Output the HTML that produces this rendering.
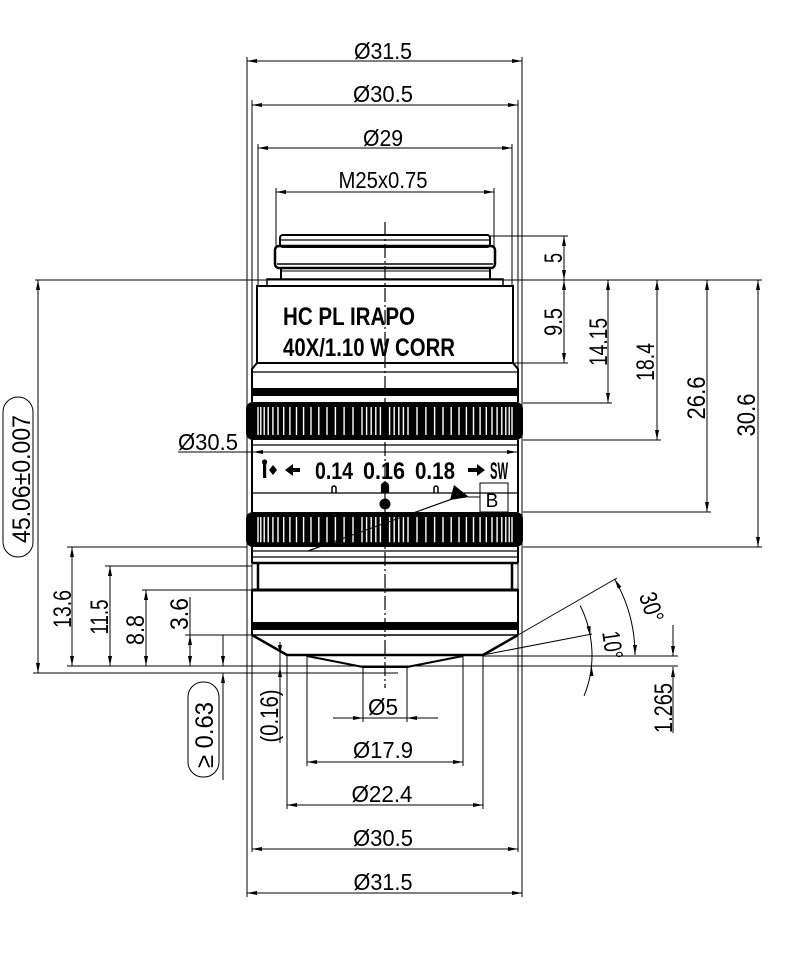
<!DOCTYPE html>
<html><head><meta charset="utf-8"><style>
html,body{margin:0;padding:0;background:#fff}
svg{display:block}
text{font-family:"Liberation Sans",sans-serif;fill:#000;stroke:none}
.d{font-size:23px}
.r{font-size:25px}
.b{font-weight:bold}
</style></head><body>
<svg width="800" height="974" viewBox="0 0 800 974" xmlns="http://www.w3.org/2000/svg">
<rect width="800" height="974" fill="#fff"/>
<defs>
<path id="kl" d="M380.4 0v28M371.2 0v28M362 0v28M353 0v28M344.1 0v28M335.4 0v28M327 0v28M318.8 0v28M311 0v28M303.6 0v28M296.5 0v28M289.9 0v28M283.7 0v28M278 0v28M272.9 0v28M268.2 0v28M264.2 0v28M260.8 0v28M258 0v28M389.6 0v28M398.8 0v28M408 0v28M417 0v28M425.9 0v28M434.6 0v28M443 0v28M451.2 0v28M459 0v28M466.4 0v28M473.5 0v28M480.1 0v28M486.3 0v28M492 0v28M497.1 0v28M501.8 0v28M505.8 0v28M509.2 0v28M512 0v28M375.8 0v28M394.2 0v28M366.6 0v28M403.4 0v28"/>
</defs>

<g stroke="#000" stroke-width="1" fill="none">
<path d="M247 57V897M522 57V897M252 100V852M518 100V852M258 144V286M512 144V286M276 188V247M494 188V247"/>
<path d="M247 61H522M252 105H518M258 148H512M276 192H494"/>
<path d="M333 718H438M307 762H463M287 805H483M252 849H518M247 893H522"/>
<path d="M363 667V722M407 667V722M307 656V766M463 656V766M287 656V809M483 656V809"/>
<path d="M490 236H568M35 280H762M513 363H568M523 403H612M523 440H661M523 512H711M523 547H762"/>
<path d="M67 547H247M105 566H252M142 590H252M185 635H252M67 666H678M33 673H398M483 656H678"/>
<path d="M564 236V363M608 280V403M657 280V440M707 280V512M758 280V547"/>
<path d="M38 280V673M72 547V666M110 566V666M146 590V666M190 597V666M223 635V666M223 673V780M280 642V743M673 625V656M673 667V733"/>
<path d="M178 452H518"/>
<path d="M518 635L617 578M483 655L592 634"/>
<path d="M614.6 579A152 152 0 0 1 635 655"/>
<path d="M580.1 605.5A109 109 0 0 1 584.1 695.8"/>
<path d="M308 551L452 499M468 497H480"/>
<rect x="480" y="483" width="28" height="29"/>
<rect x="3" y="397" width="30" height="160" rx="15"/>
<rect x="188" y="682" width="31" height="95" rx="15"/>
</g>

<g fill="#000" stroke="none">
<polygon points="247,61 257,59 257,63"/><polygon points="522,61 512,59 512,63"/>
<polygon points="252,105 262,103 262,107"/><polygon points="518,105 508,103 508,107"/>
<polygon points="258,148 268,146 268,150"/><polygon points="512,148 502,146 502,150"/>
<polygon points="276,192 286,190 286,194"/><polygon points="494,192 484,190 484,194"/>
<polygon points="363,718 353,716 353,720"/><polygon points="407,718 417,716 417,720"/>
<polygon points="307,762 317,760 317,764"/><polygon points="463,762 453,760 453,764"/>
<polygon points="287,805 297,803 297,807"/><polygon points="483,805 473,803 473,807"/>
<polygon points="252,849 262,847 262,851"/><polygon points="518,849 508,847 508,851"/>
<polygon points="247,893 257,891 257,895"/><polygon points="522,893 512,891 512,895"/>
<polygon points="253,452 263,450 263,454"/><polygon points="517,452 507,450 507,454"/>
<polygon points="564,236 562,246 566,246"/><polygon points="564,280 562,270 566,270"/>
<polygon points="564,280 562,290 566,290"/><polygon points="564,363 562,353 566,353"/>
<polygon points="608,280 606,290 610,290"/><polygon points="608,403 606,393 610,393"/>
<polygon points="657,280 655,290 659,290"/><polygon points="657,440 655,430 659,430"/>
<polygon points="707,280 705,290 709,290"/><polygon points="707,512 705,502 709,502"/>
<polygon points="758,280 756,290 760,290"/><polygon points="758,547 756,537 760,537"/>
<polygon points="38,280 36,290 40,290"/><polygon points="38,673 36,663 40,663"/>
<polygon points="72,547 70,557 74,557"/><polygon points="72,666 70,656 74,656"/>
<polygon points="110,566 108,576 112,576"/><polygon points="110,666 108,656 112,656"/>
<polygon points="146,590 144,600 148,600"/><polygon points="146,666 144,656 148,656"/>
<polygon points="190,635 188,645 192,645"/><polygon points="190,666 188,656 192,656"/>
<polygon points="223,666 221,656 225,656"/><polygon points="223,673 221,683 225,683"/>
<polygon points="280,655 278,645 282,645"/><polygon points="280,667 278,677 282,677"/>
<polygon points="673,656 671,646 675,646"/><polygon points="673,667 671,677 675,677"/>
<polygon points="614.6,579 621.3,586.7 617.9,588.7"/>
<polygon points="635,655 633,645 637,645"/>
<polygon points="590.3,636.1 590.6,626 586.6,626.6"/>
<polygon points="591.5,666 589.5,676 593.5,676"/>
<polygon points="454,485 469,497 450,500"/>
</g>

<g stroke="#000" stroke-width="2" fill="none">
<rect x="280" y="235" width="210" height="12" rx="3"/>
<path d="M281 240H489" stroke-width="1.2"/>
<rect x="275" y="246" width="220" height="22" rx="4" stroke-width="2.5"/>
<path d="M277 264H493" stroke-width="1.5"/>
<path d="M281 268V279M490 268V279"/>
<path d="M282 271H489" stroke-width="1"/>
<rect x="267" y="279" width="236" height="7" stroke-width="1.5"/>
<rect x="257" y="286" width="256" height="77"/>
<path d="M257 363L252 369V402M513 363L518 369V402"/>
<path d="M252 372H518" stroke-width="1.2"/>
<path d="M252 440V512M518 440V512"/>
<path d="M252 445H518M252 493H518" stroke-width="1.2"/>
<path d="M252 547V563M518 547V563"/>
<path d="M252 551H518M252 557H518" stroke-width="1.2"/>
<path d="M252 563H518" stroke-width="2.5"/>
<path d="M258 563V589M512 563V589" stroke-width="2.5"/>
<path d="M252 590H518" stroke-width="3"/>
<path d="M252 589V635M518 589V635"/>
<path d="M252 635H518" stroke-width="1.5"/>
<path d="M252 635L287 655H483L518 635" stroke-width="2.5"/>
<path d="M307 656L363 667H407L463 656"/>
</g>
<rect x="252" y="388" width="266" height="8" fill="#000"/>
<rect x="252" y="622" width="266" height="8" fill="#000"/>

<rect x="246" y="402" width="277" height="38" rx="7" fill="#000"/>
<rect x="246" y="512" width="277" height="35" rx="7" fill="#000"/>
<g stroke="#fff" stroke-width="1.4" fill="none">
<use href="#kl" transform="translate(0,407)"/>
<use href="#kl" transform="translate(0,517) scale(1,0.9)"/>
</g>
<path d="M308 551L452 499" stroke="#000" stroke-width="1"/>

<path d="M385 222V688" stroke="#000" stroke-width="1.2" stroke-dasharray="14 3 2 3" fill="none"/>

<g stroke="#000" fill="none">
<path d="M382 493V486a3 3 0 0 1 6 0V493" stroke-width="2.2" fill="#000"/>
<path d="M332 493V488a2 2 0 0 1 4 0V493" stroke-width="1.5"/>
<path d="M434 493V488a2 2 0 0 1 4 0V493" stroke-width="1.5"/>
</g>
<circle cx="385" cy="504" r="5.5" fill="#000"/>
<rect x="263" y="463" width="3.2" height="15" fill="#000"/>
<circle cx="264.6" cy="462" r="2.6" fill="#000"/>
<polygon points="273,465 277,470 273,475 269,470" fill="#000"/>
<polygon points="285,470 293,464 293,468 300,468 300,472 293,472 293,476" fill="#000"/>
<polygon points="485,470 477,464 477,468 468,468 468,472 477,472 477,476" fill="#000"/>

<text class="b" font-size="25" x="283" y="325" textLength="132" lengthAdjust="spacingAndGlyphs">HC PL IRAPO</text>
<text class="b" font-size="25" x="283" y="356" textLength="172" lengthAdjust="spacingAndGlyphs">40X/1.10 W CORR</text>
<text class="b" font-size="24" x="315" y="479" textLength="38" lengthAdjust="spacingAndGlyphs">0.14</text>
<text class="b" font-size="24" x="363" y="479" textLength="42" lengthAdjust="spacingAndGlyphs">0.16</text>
<text class="b" font-size="24" x="415" y="479" textLength="40" lengthAdjust="spacingAndGlyphs">0.18</text>
<text class="b" font-size="24" x="490" y="479" textLength="18" lengthAdjust="spacingAndGlyphs">SW</text>
<text font-size="19" x="492" y="507" text-anchor="middle">B</text>

<text class="d" x="383" y="59" text-anchor="middle" textLength="58" lengthAdjust="spacingAndGlyphs">Ø31.5</text>
<text class="d" x="383" y="102" text-anchor="middle" textLength="60" lengthAdjust="spacingAndGlyphs">Ø30.5</text>
<text class="d" x="383" y="146" text-anchor="middle" textLength="40" lengthAdjust="spacingAndGlyphs">Ø29</text>
<text class="d" x="383" y="188" text-anchor="middle" textLength="89" lengthAdjust="spacingAndGlyphs">M25x0.75</text>
<text class="d" x="178" y="450" textLength="60" lengthAdjust="spacingAndGlyphs">Ø30.5</text>
<text class="d" x="383" y="715" text-anchor="middle" textLength="30" lengthAdjust="spacingAndGlyphs">Ø5</text>
<text class="d" x="383" y="758" text-anchor="middle" textLength="60" lengthAdjust="spacingAndGlyphs">Ø17.9</text>
<text class="d" x="382" y="802" text-anchor="middle" textLength="61" lengthAdjust="spacingAndGlyphs">Ø22.4</text>
<text class="d" x="383" y="846" text-anchor="middle" textLength="60" lengthAdjust="spacingAndGlyphs">Ø30.5</text>
<text class="d" x="383" y="890" text-anchor="middle" textLength="59" lengthAdjust="spacingAndGlyphs">Ø31.5</text>

<text class="r" text-anchor="middle" y="9" transform="translate(553,258) rotate(-90)" textLength="10" lengthAdjust="spacingAndGlyphs">5</text>
<text class="r" text-anchor="middle" y="9" transform="translate(553,322) rotate(-90)" textLength="28" lengthAdjust="spacingAndGlyphs">9.5</text>
<text class="r" text-anchor="middle" y="9" transform="translate(598,342) rotate(-90)" textLength="48" lengthAdjust="spacingAndGlyphs">14.15</text>
<text class="r" text-anchor="middle" y="9" transform="translate(645,362) rotate(-90)" textLength="38" lengthAdjust="spacingAndGlyphs">18.4</text>
<text class="r" text-anchor="middle" y="9" transform="translate(696,398) rotate(-90)" textLength="43" lengthAdjust="spacingAndGlyphs">26.6</text>
<text class="r" text-anchor="middle" y="9" transform="translate(746,415) rotate(-90)" textLength="43" lengthAdjust="spacingAndGlyphs">30.6</text>
<text class="r" text-anchor="middle" y="9" transform="translate(62,609) rotate(-90)" textLength="38" lengthAdjust="spacingAndGlyphs">13.6</text>
<text class="r" text-anchor="middle" y="9" transform="translate(99,617) rotate(-90)" textLength="35" lengthAdjust="spacingAndGlyphs">11.5</text>
<text class="r" text-anchor="middle" y="9" transform="translate(135,630) rotate(-90)" textLength="30" lengthAdjust="spacingAndGlyphs">8.8</text>
<text class="r" text-anchor="middle" y="9" transform="translate(179,614) rotate(-90)" textLength="32" lengthAdjust="spacingAndGlyphs">3.6</text>
<text class="r" text-anchor="middle" y="9" transform="translate(21,479) rotate(-90)" textLength="128" lengthAdjust="spacingAndGlyphs">45.06±0.007</text>
<text class="r" text-anchor="middle" y="9" transform="translate(204,735) rotate(-90)" textLength="66" lengthAdjust="spacingAndGlyphs">≥ 0.63</text>
<text class="r" text-anchor="middle" y="9" transform="translate(269,716) rotate(-90)" textLength="53" lengthAdjust="spacingAndGlyphs">(0.16)</text>
<text class="r" text-anchor="middle" y="9" transform="translate(663,708) rotate(-90)" textLength="50" lengthAdjust="spacingAndGlyphs">1.265</text>
<text class="r" text-anchor="middle" y="9" transform="translate(652,607) rotate(72)" textLength="30" lengthAdjust="spacingAndGlyphs">30°</text>
<text class="r" text-anchor="middle" y="9" transform="translate(613,645) rotate(82)" textLength="28" lengthAdjust="spacingAndGlyphs">10°</text>
</svg>
</body></html>
